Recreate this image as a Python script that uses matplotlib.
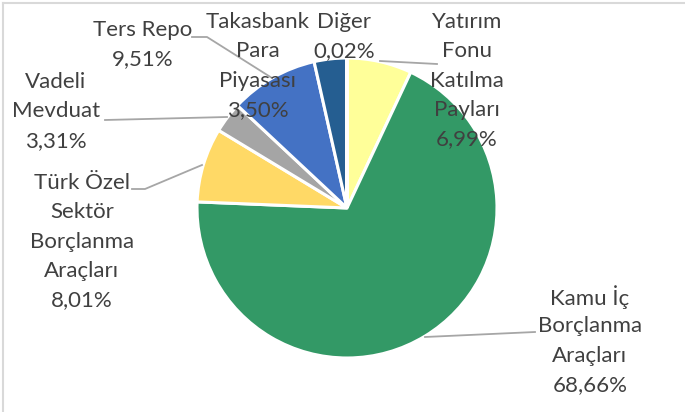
import matplotlib.pyplot as plt

categories = ['Yatırım\nFonu\nKatılma\nPayları', 'Kamu İç\nBorçlanma\nAraçları',
              'Türk Özel\nSektör\nBorçlanma\nAraçları', 'Vadeli\nMevduat', 'Ters Repo',
              'Takasbank\nPara\nPiyasası', 'Diğer']
shares = [6.99, 68.66, 8.01, 3.31, 9.51, 3.50, 0.02]
colors = ['#FFFF99', '#339966', '#FFD966', '#A5A5A5', '#4472C4', '#255E91', '#1F4E79']

W, H = 685, 412
fig = plt.figure(figsize=(W / 100, H / 100), dpi=100)
ax = fig.add_axes([0, 0, 1, 1])

cx, cy, r = 347, H - 208, 150
ax.pie(shares, colors=colors, startangle=90, counterclock=False,
       center=(cx, cy), radius=r, frame=True,
       wedgeprops=dict(edgecolor='white', linewidth=2.2))
ax.set_xlim(0, W)
ax.set_ylim(0, H)
ax.set_aspect('equal')
ax.axis('off')

# label positions (center x, first line y) in pixels from top-left
label_pos = [(467, 22), (590, 297), (82, 183), (56, 82), (143, 30), (258, 22), (344, 22)]
txt_col = '#404040'
for name, val, (lx, ly) in zip(categories, shares, label_pos):
    s = name + '\n' + f'{val:.2f}'.replace('.', ',') + '%'
    for i, line in enumerate(s.split('\n')):
        ax.text(lx, H - (ly + i * 29.3), line, ha='center', va='center',
                fontsize=16, family='Lato', color=txt_col)

# leader lines
lc = '#A6A6A6'
leaders = [
    [(192, 37), (207, 37), (272, 78)],
    [(105, 120), (227, 117)],
    [(132, 189), (145, 189), (202, 165)],
    [(380, 61), (437, 64)],
    [(425, 337), (535, 332)],
]
for pts in leaders:
    ax.plot([p[0] for p in pts], [H - p[1] for p in pts], color=lc, lw=1.3)

# chart border (top and left)
ax.plot([3, W], [H - 3, H - 3], color='#D9D9D9', lw=1.5, clip_on=False)
ax.plot([3, 3], [H - 3, 0], color='#D9D9D9', lw=1.5, clip_on=False)

fig.savefig('out.png', dpi=100)
